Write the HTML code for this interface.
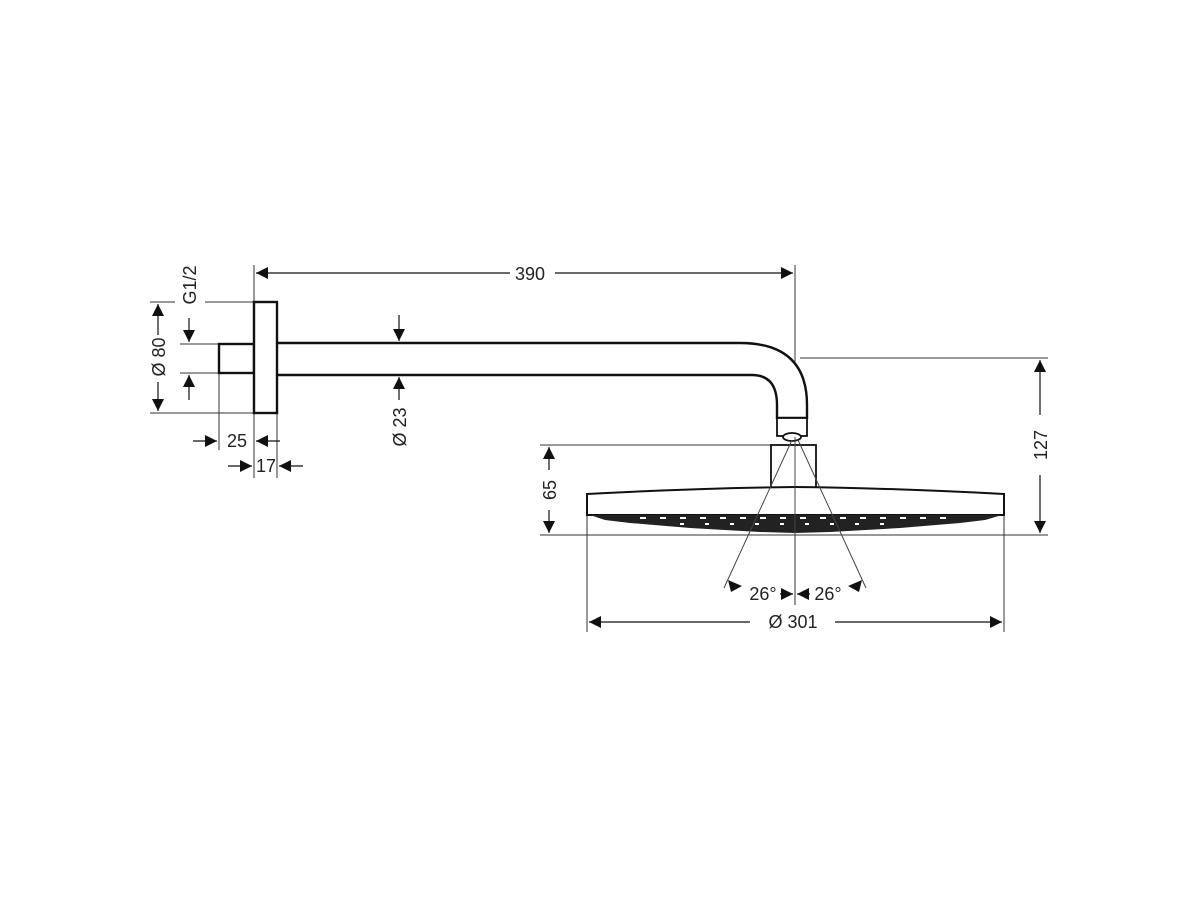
<!DOCTYPE html>
<html><head><meta charset="utf-8"><style>html,body{margin:0;padding:0;background:#fff}svg{display:block}text{font-family:"Liberation Sans",sans-serif;font-size:18px;fill:#222}</style></head>
<body>
<svg width="1200" height="900" viewBox="0 0 1200 900" xmlns="http://www.w3.org/2000/svg">
<defs>
<marker id="a" viewBox="0 0 10 10" refX="10" refY="5" markerWidth="12" markerHeight="12" markerUnits="userSpaceOnUse" orient="auto"><path d="M0,0L10,5L0,10z" fill="#111"/></marker>
</defs>
<g stroke="#333" stroke-width="1" fill="none">
<line x1="254" y1="265" x2="254" y2="478"/>
<line x1="277" y1="413" x2="277" y2="478"/>
<line x1="219" y1="373" x2="219" y2="450"/>
<line x1="795" y1="265" x2="795" y2="605"/>
<line x1="150" y1="302" x2="175" y2="302"/><line x1="205" y1="302" x2="254" y2="302"/>
<line x1="150" y1="413" x2="254" y2="413"/>
<line x1="180" y1="344" x2="219" y2="344"/><line x1="180" y1="373" x2="219" y2="373"/>
<line x1="800" y1="358" x2="1048" y2="358"/>
<line x1="540" y1="445" x2="790" y2="445"/>
<line x1="540" y1="535" x2="1048" y2="535"/>
<line x1="587" y1="515" x2="587" y2="632"/>
<line x1="1004" y1="515" x2="1004" y2="632"/>
</g>
<g stroke="#111" stroke-width="1.2" fill="none">
<line x1="510" y1="273" x2="256" y2="273" marker-end="url(#a)"/>
<line x1="555" y1="273" x2="793" y2="273" marker-end="url(#a)"/>
<line x1="158" y1="335" x2="158" y2="304" marker-end="url(#a)"/>
<line x1="158" y1="382" x2="158" y2="411" marker-end="url(#a)"/>
<line x1="189" y1="318" x2="189" y2="342" marker-end="url(#a)"/>
<line x1="189" y1="400" x2="189" y2="375" marker-end="url(#a)"/>
<line x1="193" y1="441" x2="217" y2="441" marker-end="url(#a)"/>
<line x1="280" y1="441" x2="256" y2="441" marker-end="url(#a)"/>
<line x1="228" y1="466" x2="252" y2="466" marker-end="url(#a)"/>
<line x1="303" y1="466" x2="279" y2="466" marker-end="url(#a)"/>
<line x1="399" y1="315" x2="399" y2="341" marker-end="url(#a)"/>
<line x1="399" y1="400" x2="399" y2="377" marker-end="url(#a)"/>
<line x1="1040" y1="415" x2="1040" y2="360" marker-end="url(#a)"/>
<line x1="1040" y1="475" x2="1040" y2="533" marker-end="url(#a)"/>
<line x1="549" y1="470" x2="549" y2="447" marker-end="url(#a)"/>
<line x1="549" y1="510" x2="549" y2="533" marker-end="url(#a)"/>
<line x1="750" y1="622" x2="589" y2="622" marker-end="url(#a)"/>
<line x1="835" y1="622" x2="1002" y2="622" marker-end="url(#a)"/>
<line x1="780" y1="594" x2="793" y2="594" marker-end="url(#a)"/>
<line x1="810" y1="594" x2="797" y2="594" marker-end="url(#a)"/>
</g>
<path d="M728,580 L742,586 L731,592z" fill="#111"/>
<path d="M862,580 L848,586 L859,592z" fill="#111"/>
<g stroke="#111" stroke-width="2.4" fill="#fff">
<rect x="219" y="344" width="35" height="29"/>
<path d="M277,343 H740 Q807,343 807,405 V418 H777 V405 Q777,375 752,375 H277"/>
<rect x="254" y="302" width="23" height="111"/>
<rect x="777" y="418" width="30" height="18" stroke-width="1.8"/>
<ellipse cx="792" cy="437" rx="9" ry="4" stroke-width="1.8"/>
<rect x="771" y="445" width="45" height="43" stroke-width="1.8"/>
<path d="M587,515 V494 Q700,488 795,487 Q890,488 1004,494 V515 Z" stroke-width="2"/>
</g>
<path d="M590,515 L1002,515 L985,520 L960,523 L900,528 L830,532 L795,533 L760,532 L690,528 L630,523 L605,520 Z" fill="#222"/>
<g stroke="#fff" stroke-width="2">
<path d="M640,518h6M660,518h6M680,518h6M700,518h6M720,518h6M740,518h6M760,518h6M780,518h6M800,518h6M820,518h6M840,518h6M860,518h6M880,518h6M900,518h6M920,518h6M940,518h6"/>
<path d="M680,524h4M705,524h4M730,524h4M755,524h4M780,524h4M805,524h4M830,524h4M855,524h4M880,524h4"/>
</g>
<g stroke="#444" stroke-width="1" fill="none">
<line x1="795" y1="437" x2="795" y2="535"/>
<line x1="792" y1="440" x2="724" y2="588"/>
<line x1="798" y1="440" x2="866" y2="588"/>
</g>
<text x="530" y="280" text-anchor="middle">390</text>
<text transform="translate(165,357) rotate(-90)" text-anchor="middle">Ø 80</text>
<text transform="translate(196,285) rotate(-90)" text-anchor="middle">G1/2</text>
<text x="237" y="447" text-anchor="middle">25</text>
<text x="266" y="472" text-anchor="middle">17</text>
<text transform="translate(406,427) rotate(-90)" text-anchor="middle">Ø 23</text>
<text transform="translate(1047,445) rotate(-90)" text-anchor="middle">127</text>
<text transform="translate(556,490) rotate(-90)" text-anchor="middle">65</text>
<text x="793" y="628" text-anchor="middle">Ø 301</text>
<text x="763" y="600" text-anchor="middle">26°</text>
<text x="828" y="600" text-anchor="middle">26°</text>
</svg>
</body></html>
